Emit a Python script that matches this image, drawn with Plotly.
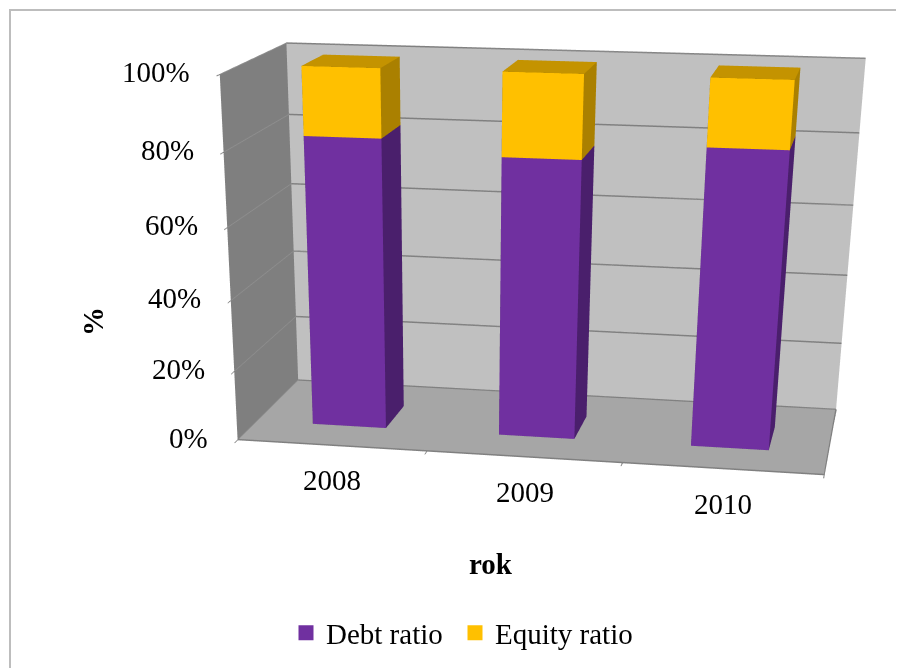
import plotly.graph_objects as go

years = ["2008", "2009", "2010"]
debt_ratio = [81.6, 77.8, 82.2]
equity_ratio = [18.4, 22.2, 17.8]
pct_ticks = [0, 20, 40, 60, 80, 100]
pct_labels = ["0%", "20%", "40%", "60%", "80%", "100%"]

FONT = "Liberation Serif, Times New Roman, serif"
OFF = 8          # page margin of the browser body
WF, HF = 896, 1801  # tall scene: gives the narrow field of view of the original
X0 = -0.5028
HALF = 0.1982
D0, D1 = 0.3008, 0.6594
GRID = "#808080"
TXT = dict(family=FONT, size=29, color="black")

TRI_I = [0, 0, 4, 4, 0, 0, 1, 1, 0, 0, 3, 3]
TRI_J = [1, 2, 5, 6, 1, 5, 2, 6, 3, 7, 2, 6]
TRI_K = [2, 3, 6, 7, 5, 4, 6, 5, 7, 4, 6, 7]


def px(x):
    return (x - OFF) / WF


def py(y):
    return 1 - (y - OFF) / HF


def box(x, z0, z1, colors, name):
    front, side, top = colors
    return go.Mesh3d(
        x=[x - HALF, x + HALF, x + HALF, x - HALF] * 2,
        y=[D0, D0, D1, D1] * 2,
        z=[z0] * 4 + [z1] * 4,
        i=TRI_I, j=TRI_J, k=TRI_K,
        facecolor=[side, side, top, top, front, front, side, side, side, side, side, side],
        flatshading=True, showlegend=False, hoverinfo="skip", name=name,
        lighting=dict(ambient=1, diffuse=0, specular=0, fresnel=0, roughness=1),
    )


purple = ("#7030A0", "#4A1F6C", "#4A1F6C")
gold = ("#FFC000", "#AA8000", "#C49300")
traces = []
for n in range(len(years)):
    traces.append(box(n, 0, debt_ratio[n], purple, "Debt ratio"))
    traces.append(box(n, debt_ratio[n], debt_ratio[n] + equity_ratio[n], gold, "Equity ratio"))

# gridlines on the back wall, and the outline of the floor
for v in pct_ticks:
    traces.append(go.Scatter3d(x=[X0, X0 + 3], y=[1, 1], z=[v, v], mode="lines", showlegend=False,
                               hoverinfo="skip", line=dict(color=GRID, width=3)))
traces.append(go.Scatter3d(x=[X0, X0 + 3, X0 + 3], y=[0, 0, 1], z=[0, 0, 0], mode="lines", showlegend=False,
                           hoverinfo="skip", line=dict(color=GRID, width=3)))

for name, col, lg in (("Debt ratio", "#7030A0", "legend"), ("Equity ratio", "#FFC000", "legend2")):
    traces.append(go.Scatter3d(x=[None], y=[None], z=[None], mode="markers", name=name, legend=lg,
                               marker=dict(symbol="square", size=15, color=col, line=dict(width=0))))

annos = []
for v, t in zip(pct_ticks, pct_labels):
    annos.append(dict(x=X0, y=0, z=v, text=t, showarrow=False, xanchor="right", yanchor="middle",
                      xshift=-28, yshift=2, font=TXT))
for n, t in enumerate(years):
    annos.append(dict(x=n, y=0, z=0, text=t, showarrow=False, xanchor="center", yanchor="middle",
                      yshift=-35, font=TXT))

axis = dict(title="", showticklabels=False, zeroline=False, showspikes=False, showline=True,
            linecolor=GRID, linewidth=2)
fig = go.Figure(traces)
fig.update_layout(
    width=WF, height=HF, margin=dict(l=0, r=0, t=0, b=0, pad=0),
    paper_bgcolor="white", showlegend=True,
    legend=dict(orientation="h", x=px(286), xanchor="left", y=py(633), yanchor="middle",
                font=TXT, bgcolor="rgba(0,0,0,0)"),
    legend2=dict(orientation="h", x=px(455), xanchor="left", y=py(633), yanchor="middle",
                 font=TXT, bgcolor="rgba(0,0,0,0)"),
    scene=dict(
        domain=dict(x=[0, 1], y=[0, 1]),
        aspectmode="manual", aspectratio=dict(x=1, y=0.3953, z=0.5926),
        camera=dict(eye=dict(x=0.6, y=-3.724, z=0.7838),
                    center=dict(x=0.0781, y=-1.1572, z=-0.6414),
                    up=dict(x=-0.0033, y=0.0444, z=1)),
        hovermode=False,
        xaxis=dict(axis, range=[X0, X0 + 3], showgrid=False, tickmode="array",
                   tickvals=[X0, X0 + 1, X0 + 2, X0 + 3], ticks="outside", ticklen=16, tickcolor=GRID,
                   tickwidth=2, showbackground=True, backgroundcolor="#7F7F7F"),
        yaxis=dict(axis, range=[0, 1], showgrid=False, ticks="", showbackground=True,
                   backgroundcolor="#C0C0C0"),
        zaxis=dict(axis, range=[0, 100], showgrid=True, gridcolor="#8E8E8E", gridwidth=2, tickmode="array",
                   tickvals=pct_ticks, ticks="outside", ticklen=16, tickcolor=GRID, tickwidth=2,
                   showbackground=True, backgroundcolor="#A6A6A6"),
        annotations=annos,
    ),
    annotations=[
        dict(xref="paper", yref="paper", x=px(491), y=py(564), xanchor="center", yanchor="middle",
             text="<b>rok</b>", showarrow=False, font=TXT),
        dict(xref="paper", yref="paper", x=px(93), y=py(322), xanchor="center", yanchor="middle",
             text="<b>%</b>", textangle=-90, showarrow=False, font=TXT),
    ],
    shapes=[dict(type="rect", xref="paper", yref="paper", x0=px(10), x1=1.2, y0=-0.2, y1=py(10),
                 line=dict(color="#BDBDBD", width=2))],
)
fig.write_html("out.html")
